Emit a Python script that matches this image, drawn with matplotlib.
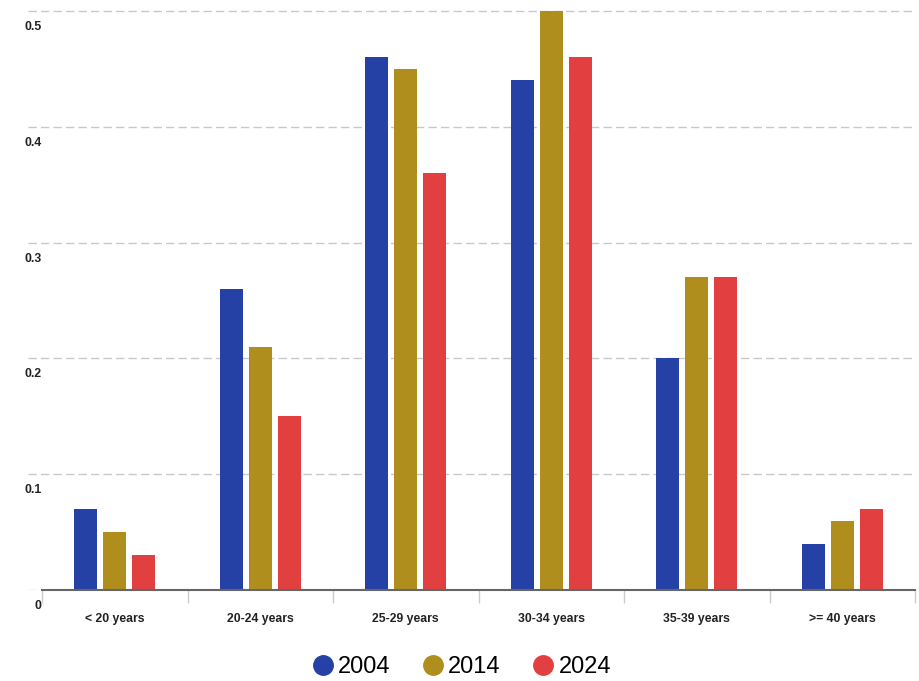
import numpy as np
import matplotlib.pyplot as plt
from matplotlib.lines import Line2D

plt.rcParams['font.family'] = ['Liberation Sans', 'DejaVu Sans']

# data
categories = ['< 20 years', '20-24 years', '25-29 years', '30-34 years', '35-39 years', '>= 40 years']
years = ['2004', '2014', '2024']
vals_2004 = [0.07, 0.26, 0.46, 0.44, 0.20, 0.04]
vals_2014 = [0.05, 0.21, 0.45, 0.50, 0.27, 0.06]
vals_2024 = [0.03, 0.15, 0.36, 0.46, 0.27, 0.07]
y_ticks = [0, 0.1, 0.2, 0.3, 0.4, 0.5]
y_tick_labels = ['0', '0.1', '0.2', '0.3', '0.4', '0.5']

colors = ['#2541a5', '#b08e1e', '#e24040']

W, H = 919, 681
fig = plt.figure(figsize=(W / 100, H / 100), dpi=100)

# axes spans pixel x 28..915, y 0..590
ax = fig.add_axes([28 / W, (H - 590) / H, (915 - 28) / W, 590 / H])
x = np.arange(len(categories))
cat_px = (915 - 42) / len(categories)
ax.set_xlim(-0.5 - 14 / cat_px, len(categories) - 0.5)
ax.set_ylim(0, 0.5 + 11 / 1158)

step = 0.2
width = 0.158
for i, (vals, col) in enumerate(zip([vals_2004, vals_2014, vals_2024], colors)):
    ax.bar(x + (i - 1) * step, vals, width=width, color=col, zorder=3)

# dashed grid lines
for t in y_ticks:
    ax.axhline(t, color='#c8c8c8', linestyle=(0, (6, 3)), linewidth=1.0, zorder=1)

# baseline
ax.plot([-0.5, len(categories) - 0.5], [0, 0], color='#666666', linewidth=1.5,
        zorder=4, clip_on=False)

for s in ax.spines.values():
    s.set_visible(False)

# y labels sit below their grid lines
ax.set_yticks([])
for t, lab in zip(y_ticks, y_tick_labels):
    ax.annotate(lab, xy=(-0.5, t), xycoords='data', xytext=(-0.5, -11.5),
                textcoords='offset points', ha='right', va='center',
                fontsize=8.8, fontweight='bold', color='#222222', annotation_clip=False)

# category ticks at boundaries, labels in between
ax.set_xticks(x)
ax.set_xticklabels(categories, fontsize=8.8, fontweight='bold', color='#222222')
ax.tick_params(axis='x', which='major', length=0, pad=16.5)
ax.set_xticks(np.arange(-0.5, len(categories)), minor=True)
ax.tick_params(axis='x', which='minor', length=9, width=1, color='#cccccc', direction='out')

handles = [Line2D([], [], linestyle='none', marker='o', markersize=14,
                  markerfacecolor=c, markeredgecolor=c) for c in colors]
fig.legend(handles, years, loc='center', bbox_to_anchor=(461 / W, 1 - 667 / H),
           ncol=3, frameon=False, fontsize=17, handletextpad=0.15,
           columnspacing=1.3, handlelength=1.0)

fig.savefig('out.png', dpi=100)
